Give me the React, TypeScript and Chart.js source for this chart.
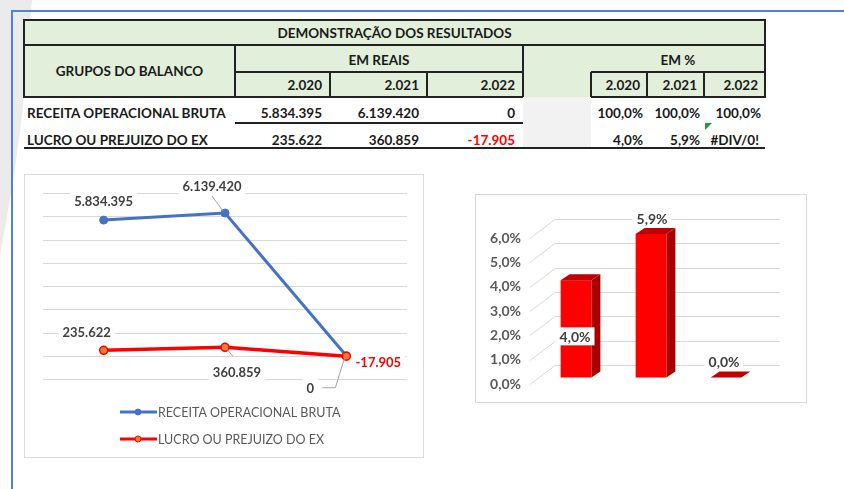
import React, { useEffect, useRef } from "react";
import { Chart, registerables } from "chart.js";
Chart.register(...registerables);

const FONT = "Lato, 'Liberation Sans', sans-serif";

// ---------- DATA ----------
const tableTitle = "DEMONSTRAÇÃO DOS RESULTADOS";
const groupHeader = "GRUPOS DO BALANCO";
const reaisHeader = "EM REAIS";
const pctHeader = "EM %";
const years = ["2.020", "2.021", "2.022"];
const rowLabels = ["RECEITA OPERACIONAL BRUTA", "LUCRO OU PREJUIZO DO EX"];
const receita = [5834395, 6139420, 0];
const lucro = [235622, 360859, -17905];
const receitaPct = ["100,0%", "100,0%", "100,0%"];
const lucroPct = ["4,0%", "5,9%", "#DIV/0!"];
const lucroPctChart = [4.0, 5.9, 0.0];
const lineYMin = -1000000;
const lineYMax = 7000000;
const lineYStep = 1000000;
const barYMin = 0;
const barYMax = 6;
const barYStep = 1;

// ---------- helpers ----------
function fmtBR(n: number): string {
  const s = Math.abs(Math.round(n)).toString().replace(/\B(?=(\d{3})+(?!\d))/g, ".");
  return (n < 0 ? "-" : "") + s;
}
function fmtPct(n: number): string {
  return n.toFixed(1).replace(".", ",") + "%";
}

function drawBoxLabel(ctx: CanvasRenderingContext2D, text: string, cx: number, cy: number, color: string, font: string) {
  ctx.font = font;
  const w = ctx.measureText(text).width;
  ctx.fillStyle = "#ffffff";
  ctx.fillRect(cx - w / 2 - 4, cy - 9, w + 8, 18);
  ctx.fillStyle = color;
  ctx.textAlign = "center";
  ctx.textBaseline = "middle";
  ctx.fillText(text, cx, cy + 1);
}

// label placement (relative to point pixel) - style config
const lineLabelLayout: { dx: number; dy: number; leader?: number[][]; color?: string }[][] = [
  [
    { dx: 0, dy: -19 },
    { dx: -13, dy: -27, leader: [[-13, -17], [-2, -2]] },
    { dx: -36, dy: 32, leader: [[-24, 32], [-11, 32], [-2, 3]] },
  ],
  [
    { dx: -17, dy: -18 },
    { dx: 12, dy: 24, leader: [[2, 2], [8, 9]] },
    { dx: 32, dy: 6, color: "#FF0000" },
  ],
];

function LineChart() {
  const ref = useRef<HTMLCanvasElement>(null);
  useEffect(() => {
    const canvas = ref.current!;
    const plugin = {
      id: "lineDeco",
      beforeDatasetsDraw(chart: any) {
        const { ctx, chartArea } = chart;
        const y = chart.scales.y;
        ctx.save();
        ctx.strokeStyle = "#d9d9d9";
        ctx.lineWidth = 1;
        for (let v = lineYMin; v <= lineYMax; v += lineYStep) {
          const py = Math.round(y.getPixelForValue(v)) + 0.5;
          ctx.beginPath();
          ctx.moveTo(chartArea.left, py);
          ctx.lineTo(chartArea.right, py);
          ctx.stroke();
        }
        ctx.restore();
      },
      afterDatasetsDraw(chart: any) {
        const { ctx } = chart;
        ctx.save();
        const font = `bold 13px ${FONT}`;
        [0, 1].forEach((di) => {
          const meta = chart.getDatasetMeta(di);
          meta.data.forEach((pt: any, i: number) => {
            const L = lineLabelLayout[di][i];
            if (L.leader) {
              ctx.strokeStyle = "#a6a6a6";
              ctx.lineWidth = 1;
              ctx.beginPath();
              L.leader.forEach((p, k) => {
                if (k === 0) ctx.moveTo(pt.x + p[0], pt.y + p[1]);
                else ctx.lineTo(pt.x + p[0], pt.y + p[1]);
              });
              ctx.stroke();
            }
          });
        });
        [0, 1].forEach((di) => {
          const meta = chart.getDatasetMeta(di);
          const data = chart.data.datasets[di].data as number[];
          meta.data.forEach((pt: any, i: number) => {
            const L = lineLabelLayout[di][i];
            drawBoxLabel(ctx, fmtBR(data[i]), pt.x + L.dx, pt.y + L.dy, L.color || "#404040", font);
          });
        });
        ctx.restore();
      },
      afterDraw(chart: any) {
        const { ctx } = chart;
        ctx.save();
        const items = [chart.data.datasets[0], chart.data.datasets[1]];
        const x0 = 96;
        items.forEach((ds: any, i: number) => {
          const yy = 238 + i * 27;
          ctx.strokeStyle = ds.borderColor;
          ctx.lineWidth = 3;
          ctx.beginPath();
          ctx.moveTo(x0, yy);
          ctx.lineTo(x0 + 37, yy);
          ctx.stroke();
          ctx.beginPath();
          ctx.arc(x0 + 18, yy, 3, 0, Math.PI * 2);
          ctx.fillStyle = ds.pointBackgroundColor;
          ctx.fill();
          ctx.lineWidth = 1;
          ctx.strokeStyle = ds.pointBorderColor;
          ctx.stroke();
          ctx.fillStyle = "#595959";
          ctx.font = `12.5px ${FONT}`;
          ctx.textAlign = "left";
          ctx.textBaseline = "middle";
          ctx.fillText(ds.label, x0 + 38, yy + 1);
        });
        ctx.restore();
      },
    };
    const chart = new Chart(canvas, {
      type: "line",
      data: {
        labels: years,
        datasets: [
          {
            label: rowLabels[0],
            data: receita,
            borderColor: "#4472C4",
            backgroundColor: "#4472C4",
            pointBackgroundColor: "#4472C4",
            pointBorderColor: "#4472C4",
            borderWidth: 3,
            pointRadius: 4,
            pointBorderWidth: 1,
            tension: 0,
            order: 1,
          },
          {
            label: rowLabels[1],
            data: lucro,
            borderColor: "#FF0000",
            backgroundColor: "#FF0000",
            pointBackgroundColor: "#ED7D31",
            pointBorderColor: "#FF0000",
            borderWidth: 3.5,
            pointRadius: 4,
            pointBorderWidth: 1.5,
            tension: 0,
            order: 0,
          },
        ],
      },
      options: {
        animation: false,
        responsive: false,
        devicePixelRatio: 1,
        layout: { padding: { left: 19, right: 17, top: 19, bottom: 79 } },
        scales: {
          x: { display: false, offset: true },
          y: { display: false, min: lineYMin, max: lineYMax },
        },
        plugins: { legend: { display: false }, tooltip: { enabled: false } },
      },
      plugins: [plugin],
    } as any);
    return () => chart.destroy();
  }, []);
  return <canvas ref={ref} width={400} height={284} style={{ position: "absolute", left: 24, top: 174, display: "block" }} />;
}

// 3D geometry config
const WALL_DX = 25, WALL_DY = -19;
const BAR_OX = 8.5, BAR_OY = -6.5;
const BAR_DX = 9, BAR_DY = -6;
const barLabelLayout = [
  { dx: 7.5, dy: 1, mode: "center" },
  { dx: 9.5, dy: -22, mode: "top" },
  { dx: 6.5, dy: -23, mode: "top" },
];

function BarChart() {
  const ref = useRef<HTMLCanvasElement>(null);
  useEffect(() => {
    const canvas = ref.current!;
    const plugin = {
      id: "bar3d",
      beforeDatasetsDraw(chart: any) {
        const { ctx, chartArea } = chart;
        const y = chart.scales.y;
        ctx.save();
        ctx.strokeStyle = "#d9d9d9";
        ctx.lineWidth = 1;
        for (let v = barYMin; v <= barYMax; v += barYStep) {
          const py = Math.round(y.getPixelForValue(v)) + 0.5;
          ctx.beginPath();
          ctx.moveTo(chartArea.left, py);
          ctx.lineTo(chartArea.left + WALL_DX, py + WALL_DY);
          ctx.lineTo(chartArea.right + WALL_DX, py + WALL_DY);
          ctx.stroke();
        }
        ctx.restore();
      },
      afterDatasetsDraw(chart: any) {
        const { ctx } = chart;
        const meta = chart.getDatasetMeta(0);
        const data = chart.data.datasets[0].data as number[];
        ctx.save();
        meta.data.forEach((el: any) => {
          const w = el.width;
          const cx = el.x + BAR_OX;
          const l = cx - w / 2, r = cx + w / 2;
          const top = el.y + BAR_OY, bot = el.base + BAR_OY;
          ctx.fillStyle = "#A80000";
          ctx.beginPath();
          ctx.moveTo(r, top);
          ctx.lineTo(r + BAR_DX, top + BAR_DY);
          ctx.lineTo(r + BAR_DX, bot + BAR_DY);
          ctx.lineTo(r, bot);
          ctx.closePath();
          ctx.fill();
          ctx.fillStyle = "#FF0000";
          ctx.fillRect(l, top, w, bot - top);
          ctx.fillStyle = "#C00000";
          ctx.beginPath();
          ctx.moveTo(l, top);
          ctx.lineTo(l + BAR_DX, top + BAR_DY);
          ctx.lineTo(r + BAR_DX, top + BAR_DY);
          ctx.lineTo(r, top);
          ctx.closePath();
          ctx.fill();
        });
        const font = `bold 14px ${FONT}`;
        meta.data.forEach((el: any, i: number) => {
          const L = barLabelLayout[i];
          const cy = L.mode === "center" ? (el.y + el.base) / 2 + L.dy : el.y + L.dy;
          drawBoxLabel(ctx, fmtPct(data[i]), el.x + L.dx, cy, "#404040", font);
        });
        ctx.restore();
      },
    };
    const chart = new Chart(canvas, {
      type: "bar",
      data: {
        labels: years,
        datasets: [
          {
            label: rowLabels[1],
            data: lucroPctChart,
            backgroundColor: "rgba(0,0,0,0)",
            borderWidth: 0,
            barPercentage: 0.41,
            categoryPercentage: 1,
          },
        ],
      },
      options: {
        animation: false,
        responsive: false,
        devicePixelRatio: 1,
        layout: { padding: { left: 12, right: 52, top: 44, bottom: 19 } },
        scales: {
          x: { display: false, offset: true },
          y: {
            min: barYMin,
            max: barYMax,
            grid: { display: false, drawTicks: false, tickLength: 0 },
            border: { display: false },
            ticks: {
              stepSize: barYStep,
              padding: 9,
              color: "#595959",
              font: { family: FONT, size: 14, weight: "bold" },
              callback: (v: any) => fmtPct(Number(v)),
            },
            afterFit: (s: any) => {
              s.width = 43;
            },
          },
        },
        plugins: { legend: { display: false }, tooltip: { enabled: false } },
      },
      plugins: [plugin],
    } as any);
    return () => chart.destroy();
  }, []);
  return <canvas ref={ref} width={332} height={209} style={{ position: "absolute", left: 475, top: 194, display: "block" }} />;
}

const Box = (p: { l: number; t: number; w: number; h: number; bg?: string; style?: any }) => (
  <div style={{ position: "absolute", left: p.l, top: p.t, width: p.w, height: p.h, background: p.bg, ...p.style }} />
);

const Txt = (p: { l: number; t: number; w: number; h: number; align?: string; color?: string; size?: number; children?: any }) => (
  <div
    style={{
      position: "absolute",
      left: p.l,
      top: p.t,
      width: p.w,
      height: p.h,
      display: "flex",
      alignItems: "center",
      justifyContent: p.align === "right" ? "flex-end" : p.align === "left" ? "flex-start" : "center",
      fontFamily: FONT,
      fontWeight: 700,
      fontSize: p.size || 13.5,
      color: p.color || "#1a1a1a",
      whiteSpace: "nowrap",
    }}
  >
    {p.children}
  </div>
);

export default function App() {
  const X = [24, 235, 330, 427, 523, 591, 647, 704, 765];
  const Y = [20, 45, 72, 97, 123, 148];
  const LC = "#222";
  const green = "#E2EFDA";
  const reaisCols = [1, 2, 3];
  const pctCols = [5, 6, 7];
  return (
    <div style={{ position: "fixed", left: 0, top: 0, width: 844, height: 489, overflow: "hidden", background: "#fff" }}>
      <svg width={844} height={489} style={{ position: "absolute", left: 0, top: 0 }}>
        <path d="M 0 0 L 32 0 C 28 70, 20 150, 0 255 Z" fill="#ebebeb" />
      </svg>
      <Box l={12} t={10} w={832} h={2} bg="#5083D2" />
      <Box l={11} t={10} w={2} h={479} bg="#5083D2" />

      <Box l={X[0]} t={Y[0]} w={X[8] - X[0]} h={Y[3] - Y[0]} bg={green} />
      <Box l={X[4]} t={Y[3]} w={X[5] - X[4]} h={Y[5] - Y[3]} bg="#f2f2f2" />
      <Box l={X[0]} t={Y[0] - 1} w={X[8] - X[0] + 1} h={2} bg={LC} />
      <Box l={X[0] - 1} t={Y[0] - 1} w={2} h={Y[3] - Y[0] + 2} bg={LC} />
      <Box l={X[8] - 1} t={Y[0] - 1} w={2} h={Y[3] - Y[0] + 2} bg={LC} />
      <Box l={X[0]} t={Y[1] - 1} w={X[8] - X[0]} h={2} bg={LC} />
      <Box l={X[1] - 1} t={Y[1]} w={2} h={Y[3] - Y[1]} bg={LC} />
      <Box l={X[4] - 1} t={Y[1]} w={2} h={Y[3] - Y[1]} bg={LC} />
      <Box l={X[1]} t={Y[2] - 1} w={X[4] - X[1]} h={2} bg={LC} />
      <Box l={X[5]} t={Y[2] - 1} w={X[8] - X[5]} h={2} bg={LC} />
      {[2, 3, 5, 6, 7].map((c) => (
        <Box key={c} l={X[c] - 1} t={Y[2]} w={2} h={Y[3] - Y[2]} bg={LC} />
      ))}
      <Box l={X[0]} t={Y[3] - 1} w={X[4] - X[0]} h={2} bg={LC} />
      <Box l={X[5]} t={Y[3] - 1} w={X[8] - X[5]} h={2} bg={LC} />
      <Box l={X[1]} t={Y[4] - 1} w={X[4] - X[1]} h={1.5} bg={LC} />
      <Box l={X[0]} t={Y[5] - 1} w={X[8] - X[0]} h={2} bg={LC} />

      <Txt l={X[0]} t={Y[0]} w={X[8] - X[0]} h={Y[1] - Y[0]}>{tableTitle}</Txt>
      <Txt l={X[0]} t={Y[1]} w={X[1] - X[0]} h={Y[3] - Y[1]}>{groupHeader}</Txt>
      <Txt l={X[1]} t={Y[1] + 1} w={X[4] - X[1]} h={Y[2] - Y[1]}>{reaisHeader}</Txt>
      <Txt l={X[5]} t={Y[1] + 1} w={X[8] - X[5]} h={Y[2] - Y[1]}>{pctHeader}</Txt>
      {years.map((yr, i) => (
        <Txt key={"r" + i} l={X[reaisCols[i]]} t={Y[2]} w={X[reaisCols[i] + 1] - X[reaisCols[i]] - 8} h={Y[3] - Y[2]} align="right">
          {yr}
        </Txt>
      ))}
      {years.map((yr, i) => (
        <Txt key={"p" + i} l={X[pctCols[i]]} t={Y[2]} w={X[pctCols[i] + 1] - X[pctCols[i]] - 7} h={Y[3] - Y[2]} align="right">
          {yr}
        </Txt>
      ))}

      {[receita, lucro].map((row, ri) => {
        const top = ri === 0 ? 100 : 127;
        const pcts = ri === 0 ? receitaPct : lucroPct;
        return (
          <React.Fragment key={ri}>
            <Txt l={27} t={top} w={X[1] - 27} h={26} align="left">
              {rowLabels[ri]}
            </Txt>
            {row.map((v, i) => (
              <Txt key={"v" + i} l={X[reaisCols[i]]} t={top} w={X[reaisCols[i] + 1] - X[reaisCols[i]] - 8} h={26} align="right" color={v < 0 ? "#FF0000" : "#1a1a1a"}>
                {fmtBR(v)}
              </Txt>
            ))}
            {pcts.map((s, i) => (
              <Txt key={"q" + i} l={X[pctCols[i]] - 20} t={top} w={X[pctCols[i] + 1] - X[pctCols[i]] + 20 - (s.startsWith("#") ? 6 : 4)} h={26} align="right">
                {s}
              </Txt>
            ))}
          </React.Fragment>
        );
      })}
      <div style={{ position: "absolute", left: X[7] + 1, top: Y[4], width: 0, height: 0, borderTop: "7px solid #1E9A3C", borderRight: "7px solid transparent" }} />

      <Box l={24} t={174} w={400} h={284} bg="#fff" style={{ border: "1px solid #d9d9d9", boxSizing: "border-box" }} />
      <Box l={475} t={194} w={332} h={209} bg="#fff" style={{ border: "1px solid #d9d9d9", boxSizing: "border-box" }} />
      <LineChart />
      <BarChart />
    </div>
  );
}
